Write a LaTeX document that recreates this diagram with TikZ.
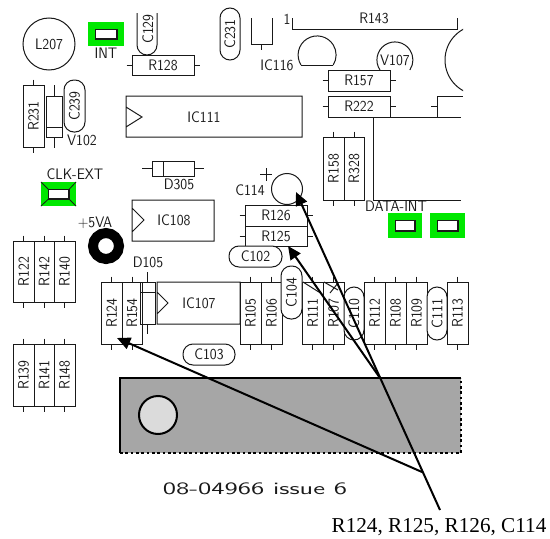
\documentclass[tikz,border=0pt]{standalone}
\usepackage{fontspec}
\usetikzlibrary{arrows.meta}
\newfontfamily\cadfont{Latin Modern Sans}[FakeStretch=0.92]
\newfontfamily\cadwide{Latin Modern Sans}[FakeStretch=1.56]
\newfontfamily\capfont{Liberation Serif}
\definecolor{padgreen}{RGB}{0,232,0}
\definecolor{ink}{RGB}{25,25,25}
\definecolor{slab}{RGB}{166,166,166}
\tikzset{
  every picture/.style={x=0.75pt,y=-0.75pt},
  part/.style={draw=ink,line width=0.75pt},
  lab/.style={inner sep=0pt,font=\cadfont\fontsize{11.4pt}{12pt}\selectfont,text=ink},
  vlab/.style={lab,rotate=90},
  pointer/.style={line width=1.5pt,black},
  ptip/.style={pointer,-{Triangle[length=10pt,width=9pt]}},
}
% horizontal resistor: x1 x2 y1 y2 name
\newcommand\hres[5]{%
  \draw[part] (#1,#3) rectangle (#2,#4);
  \draw[part] (#1-5.5,{(#3+#4)/2}) -- (#1,{(#3+#4)/2}) (#2,{(#3+#4)/2}) -- (#2+5.5,{(#3+#4)/2});
  \node[lab] (n#5) at ({(#1+#2)/2},{(#3+#4)/2}) {#5};}
% vertical resistor
\newcommand\vres[5]{%
  \draw[part] (#1,#3) rectangle (#2,#4);
  \draw[part] ({(#1+#2)/2},#3-5.5) -- ({(#1+#2)/2},#3) ({(#1+#2)/2},#4) -- ({(#1+#2)/2},#4+5.5);
  \node[vlab] (n#5) at ({(#1+#2)/2},{(#3+#4)/2}) {#5};}
% vertical capsule: x1 x2 y1 y2 name
\newcommand\vcap[5]{%
  \draw[part,fill=white,rounded corners=7.5pt] (#1,#3) rectangle (#2,#4);
  \node[vlab] (n#5) at ({(#1+#2)/2},{(#3+#4)/2}) {#5};}
\newcommand\hcap[5]{%
  \draw[part,fill=white,rounded corners=7.5pt] (#1,#3) rectangle (#2,#4);
  \node[lab] (n#5) at ({(#1+#2)/2},{(#3+#4)/2}) {#5};}
% pad
\newcommand\pad[4]{%
  \fill[padgreen] (#1,#3) rectangle (#2,#4);
  \draw[ink,line width=1pt,fill=white] (#1+7.5,#3+7.5) rectangle (#2-7,#4-7);}
\begin{document}
\begin{tikzpicture}
\useasboundingbox (0,0) rectangle (550,539);
% top left
\draw[part] (49,44) circle (26);
\node[lab] (l207) at (49,44) {L207};
\pad{88}{124}{22}{46}
\node[lab] (int) at (106,53) {INT};
\draw[part] (137,13) -- (137,45) arc (180:0:10) -- (157,13);
\node[vlab] (nC129) at (148,29) {C129};
\hres{132}{194}{55}{75}{R128}
\vcap{220}{240}{8}{60}{C231}
\draw[part] (251,18) -- (251,44) -- (272,44) -- (272,18) (261,44) -- (261,50);
\node[lab] (ic116) at (277,65) {IC116};
\vres{23}{44}{85}{147}{R231}
\draw[part] (46,96) rectangle (62,137) (46,127) -- (62,127) (54,85) -- (54,96) (54,137) -- (54,148);
\vcap{64}{85}{80}{132}{C239}
\node[lab] (v102) at (82,140) {V102};
% IC111
\draw[part] (126,96) rectangle (302,137) (126,107) -- (142,117) -- (126,127);
\node[lab] (ic111) at (204,117) {IC111};
% D305
\draw[part] (152,161) rectangle (194,176) (163,161) -- (163,176) (142,168) -- (152,168) (194,168) -- (204,168);
\node[lab] (d305) at (179,184) {D305};
% C114
\draw[part] (266,168) -- (266,181) (260,174) -- (272,174);
\node[lab] (c114) at (250,190) {C114};
\draw[part] (287,189) circle (15.5);
% CLK-EXT
\node[lab] (clk) at (75,174) {CLK-EXT};
\pad{41}{76}{182}{206}
\draw[ink,line width=0.6pt] (41,182) -- (48.5,189.5) (76,182) -- (69,189.5) (41,206) -- (48.5,199) (76,206) -- (69,199);
% IC108
\draw[part] (132,200) rectangle (214,241) (132,208) -- (144,220) -- (132,232);
\node[lab] (ic108) at (174,220) {IC108};
\node[lab] (v5) at (95,223) {+5VA};
\draw[black,line width=7.5pt] (106,246) circle (13);
\hres{245}{307}{205}{226}{R126}
\hres{245}{307}{226}{246}{R125}
\hcap{229}{282}{246}{267}{C102}
% left resistor banks
\vres{13}{34}{241}{302}{R122}
\vres{34}{54}{241}{302}{R142}
\vres{54}{75}{241}{302}{R140}
\vres{13}{34}{344}{406}{R139}
\vres{34}{54}{344}{406}{R141}
\vres{54}{75}{344}{406}{R148}
% middle row
\vres{101}{122}{282}{344}{R124}
\vres{122}{142}{282}{344}{R154}
\node[lab] (d105) at (148,262) {D105};
\draw[part] (140,282) rectangle (155,324) (140,292) -- (155,292) (147,272) -- (147,282) (147,324) -- (147,334);
\draw[part] (157,282) rectangle (240,324) (157,292) -- (168,303) -- (157,314);
\node[lab] (ic107) at (199,303) {IC107};
\vres{240}{261}{282}{344}{R105}
\vres{261}{282}{282}{344}{R106}
\vres{302}{323}{282}{344}{R111}
\vres{323}{344}{282}{344}{R107}
\vcap{281}{302}{266}{319}{C104}
\draw[part] (303,282) -- (322,294) (324,282) -- (338,290) (338,283) -- (330,293);
\vcap{344}{364}{287}{340}{C110}
\vres{364}{385}{282}{344}{R112}
\vres{385}{406}{282}{344}{R108}
\vres{406}{427}{282}{344}{R109}
\vcap{427}{447}{287}{340}{C111}
\vres{447}{468}{282}{344}{R113}
\hcap{183}{235}{344}{365}{C103}
% top right
\draw[part] (292,18) -- (292,29) -- (457,29) -- (457,18);
\node[lab] (r143) at (374,18) {R143};
\node[lab] (one) at (287,19) {1};
\draw[part] (301,65) -- (333,65);
\draw[part] (301,65) arc (148:392:19);
\draw[part] (380,70) arc (146:394:18);
\node[lab] (v107) at (395,60) {V107};
\hres{328}{390}{70}{91}{R157}
\hres{328}{390}{96}{117}{R222}
\begin{scope}
\clip (430,20) rectangle (463,100);
\draw[part] (480,60) circle (35);
\end{scope}
\draw[part] (390,117) -- (461,117) (437,117) -- (437,96) -- (463,96) (431,106) -- (437,106);
\draw[part] (373,117) -- (373,200) -- (461,200);
\vres{323}{344}{137}{200}{R158}
\vres{344}{364}{137}{200}{R328}
\node[lab] (dint) at (396,206) {DATA-INT};
\pad{388}{422}{213}{238}
\pad{430}{465}{213}{238}
% slab
\fill[slab] (120,378) rectangle (461,453);
\draw[black,line width=1.5pt,dash pattern=on 2pt off 2pt] (120,453) -- (461,453) -- (461,378);
\draw[black,line width=2pt] (120,453) -- (120,378) -- (461,378);
\draw[black,line width=1.5pt,fill=black!14] (158,415) circle (19);
\node[inner sep=0pt,font=\cadwide\fontsize{13pt}{14pt}\selectfont,text=ink] (issue) at (255,489) {08-04966 issue 6};
% pointers
\node[inner sep=0pt,font=\capfont\fontsize{15.9pt}{17pt}\selectfont,text=black] (cap) at (439,527) {R124, R125, R126, C114};
\coordinate (o) at (440,510);
\coordinate (j1) at (380,378);
\coordinate (j2) at (422,472);
\coordinate (tC) at (296,192);
\coordinate (tR) at (288,246);
\coordinate (tL) at (117,338);
\draw[ptip] (o) -- (tC);
\draw[ptip] (j1) -- (tR);
\draw[ptip] (j2) -- (tL);
\end{tikzpicture}
\end{document}
